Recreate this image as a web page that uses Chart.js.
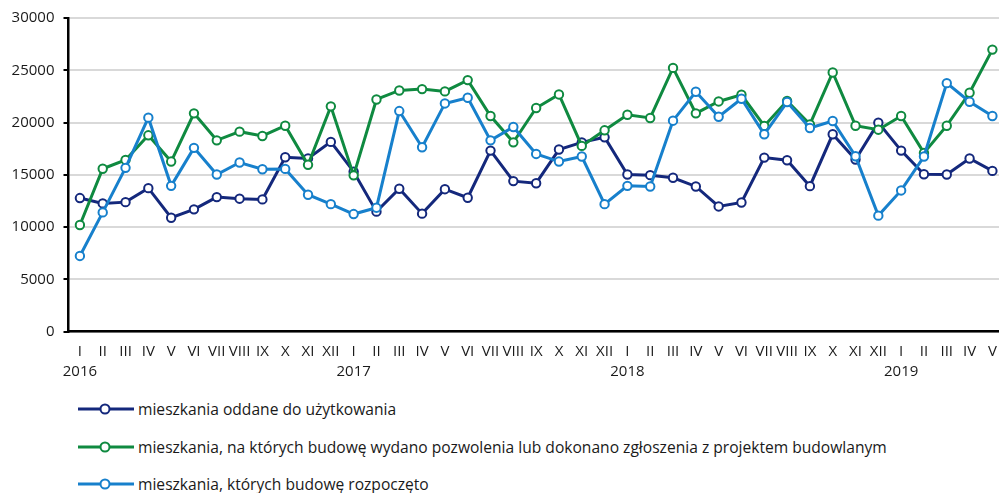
<!DOCTYPE html>
<html>
<head>
<meta charset="utf-8">
<script src="https://cdn.jsdelivr.net/npm/chart.js@4/dist/chart.umd.min.js"></script>
<style>
  html, body { margin: 0; padding: 0; background: #fff; overflow: hidden; width: 999px; height: 493px; }
  #wrap { position: absolute; left: 0; top: 0; width: 1010px; height: 390px; }
  #legend { position: absolute; left: 0; top: 0; font-family: "Open Sans", sans-serif; font-size: 15.6px; color: #1a1a1a; }
  .item { position: absolute; left: 78px; white-space: nowrap; display: flex; align-items: center; height: 20px; }
  .item svg { margin-right: 4px; }
</style>
</head>
<body>
<div id="wrap"><canvas id="c"></canvas></div>
<div id="legend"></div>
<script>
const months = ["I","II","III","IV","V","VI","VII","VIII","IX","X","XI","XII"];
const years = ["2016","2017","2018","2019"];
const monthsPerYear = [12, 12, 12, 5];

const seriesNames = [
  "mieszkania oddane do użytkowania",
  "mieszkania, na których budowę wydano pozwolenia lub dokonano zgłoszenia z projektem budowlanym",
  "mieszkania, których budowę rozpoczęto"
];
const seriesColors = ["#14287c", "#0f8a40", "#1780cc"];

const oddane = [
  12780, 12270, 12390, 13730, 10900, 11700, 12870, 12720, 12650, 16680, 16560, 18150,
  15300, 11480, 13670, 11290, 13630, 12810, 17320, 14400, 14200, 17420, 18110, 18590,
  15030, 14970, 14720, 13890, 11980, 12360, 16650, 16400, 13920, 18880, 16460, 19990,
  17320, 15060, 15030, 16560, 15380
];
const pozwolenia = [
  10200, 15580, 16430, 18780, 16270, 20880, 18300, 19130, 18720, 19700, 15960, 21550,
  14950, 22210, 23070, 23200, 22980, 24060, 20630, 18110, 21390, 22690, 17770, 19260,
  20750, 20440, 25230, 20880, 22020, 22660, 19680, 22060, 19830, 24790, 19700, 19320,
  20630, 17100, 19700, 22850, 26980
];
const rozpoczete = [
  7245, 11410, 15670, 20470, 13950, 17580, 15030, 16180, 15540, 15570, 13100, 12200,
  11250, 11860, 21100, 17640, 21830, 22370, 18300, 19580, 17000, 16270, 16750, 12200,
  13950, 13890, 20180, 22950, 20560, 22280, 18880, 21960, 19480, 20150, 16780, 11100,
  13510, 16750, 23770, 21990, 20630
];
const yTicks = [0, 5000, 10000, 15000, 20000, 25000, 30000];

const labels = [];
years.forEach((y, yi) => {
  for (let m = 0; m < monthsPerYear[yi]; m++) {
    labels.push(m === 0 ? [months[m], y] : [months[m], ""]);
  }
});

const allData = [oddane, pozwolenia, rozpoczete];
const datasets = allData.map((d, i) => ({
  label: seriesNames[i],
  data: d,
  borderColor: seriesColors[i],
  backgroundColor: "#ffffff",
  pointBackgroundColor: "#ffffff",
  pointBorderColor: seriesColors[i],
  pointBorderWidth: 2,
  pointRadius: 4.2,
  borderWidth: 3,
  tension: 0,
  order: i === 0 ? 3 : (i === 1 ? 2 : 1)
}));

new Chart(document.getElementById("c"), {
  type: "line",
  data: { labels, datasets },
  options: {
    responsive: true,
    maintainAspectRatio: false,
    animation: false,
    layout: { padding: { top: 17, left: 0, right: 0, bottom: 0 } },
    plugins: { legend: { display: false }, tooltip: { enabled: false } },
    scales: {
      x: {
        offset: true,
        grid: { display: false, drawTicks: false },
        border: { display: true, color: "#000000", width: 2.5 },
        ticks: {
          autoSkip: false, maxRotation: 0, minRotation: 0, padding: 11,
          color: "#1a1a1a",
          font: { family: "Open Sans", size: 15, lineHeight: 1.27 }
        },
        afterFit: s => { s.height = 58.3; }
      },
      y: {
        min: 0, max: 30000,
        afterBuildTicks: s => { s.ticks = yTicks.map(v => ({ value: v })); },
        grid: { color: "#d9d9d9", lineWidth: 2, drawTicks: true, tickLength: 5, tickColor: "#000000" },
        border: { display: true, color: "#000000", width: 2.5 },
        ticks: {
          padding: 9, color: "#1a1a1a",
          font: { family: "Open Sans", size: 15 },
          callback: v => String(v)
        },
        afterFit: s => { s.width = 68.5; }
      }
    }
  }
});

const legend = document.getElementById("legend");
const rowY = [409, 447, 484];
seriesNames.forEach((n, i) => {
  const div = document.createElement("div");
  div.className = "item";
  div.style.top = (rowY[i] - 10) + "px";
  div.innerHTML =
    '<svg width="56" height="14"><line x1="0" y1="7" x2="56" y2="7" stroke="' + seriesColors[i] +
    '" stroke-width="3"/><circle cx="27" cy="7" r="4.5" fill="#fff" stroke="' + seriesColors[i] +
    '" stroke-width="2"/></svg><span></span>';
  div.querySelector("span").textContent = n;
  legend.appendChild(div);
});
</script>
</body>
</html>
